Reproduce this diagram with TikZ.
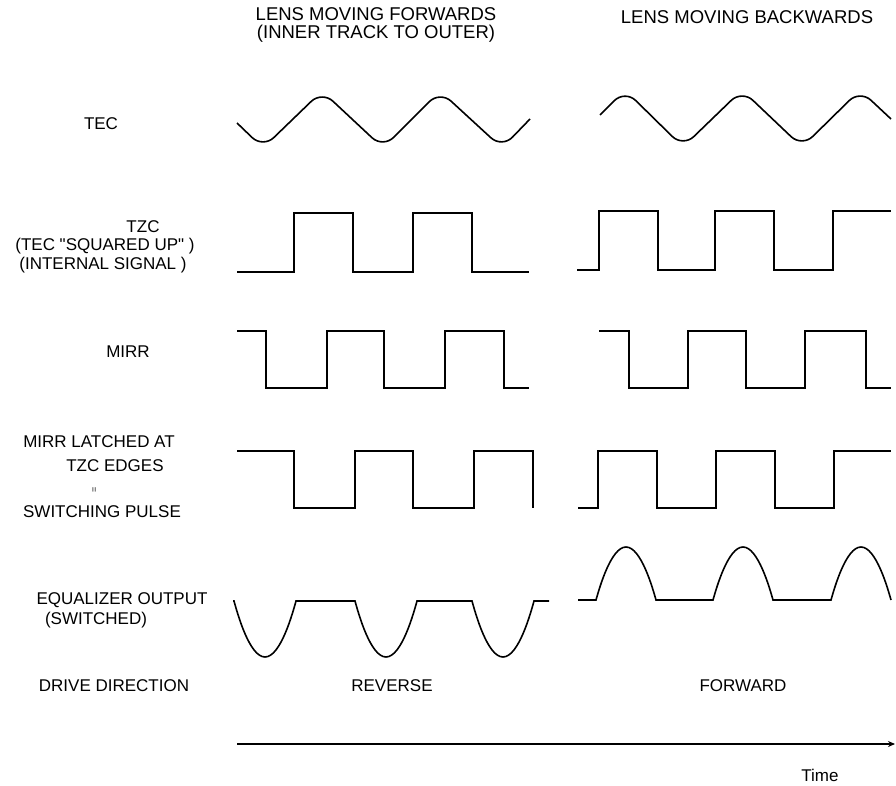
\documentclass[tikz,border=0pt]{standalone}
\usepackage{fontspec}
\setmainfont{Liberation Sans}
\usetikzlibrary{arrows.meta}
\tikzset{
  signal/.style={
    line width=1.6pt,
    line join=miter
  },
  sinewave/.style={
    line width=1.6pt,
    rounded corners=15pt
  },
  siglabel/.style={
    inner sep=0pt,
    align=center,
    font=\fontsize{17}{19}\selectfont
  },
  heading/.style={
    inner sep=0pt,
    align=center,
    font=\fontsize{18.5}{18}\selectfont
  },
  timeaxis/.style={
    line width=1.6pt,
    -{Stealth[length=7pt,width=6pt]}
  }
}
\begin{document}
\begin{tikzpicture}[x=1pt,y=-1pt]
  \useasboundingbox (0,0) rectangle (896,786);
  % column headings
  \node[heading] (fwd) at (376,25) {LENS MOVING FORWARDS\\(INNER TRACK TO OUTER)};
  \node[heading] (bwd) at (747,17) {LENS MOVING BACKWARDS};
  % row labels
  \node[siglabel] (tec) at (101,124) {TEC};
  \node[siglabel] (tzc) at (143,227) {TZC};
  \node[siglabel] (tzcsq) at (105,246) {(TEC \textquotedbl SQUARED UP\textquotedbl\ )};
  \node[siglabel] (tzcint) at (103,265) {(INTERNAL SIGNAL )};
  \node[siglabel] (mirr) at (128,352) {MIRR};
  \node[siglabel] (lat) at (99,442) {MIRR LATCHED AT};
  \node[siglabel] (latedge) at (115,466) {TZC EDGES};
  \node[siglabel, rotate=90, font=\fontsize{9}{9}\selectfont] (lateq) at (95,490) {=};
  \node[siglabel] (latsw) at (102,512) {SWITCHING PULSE};
  \node[siglabel] (eq) at (122,600) {EQUALIZER OUTPUT};
  \node[siglabel] (eqsw) at (96,620) {(SWITCHED)};
  \node[siglabel] (drive) at (114,686) {DRIVE DIRECTION};
  \node[siglabel] (rev) at (392,686) {REVERSE};
  \node[siglabel] (fwdd) at (743,686) {FORWARD};
  \node[siglabel] (time) at (820,775) {Time};

  % TEC
  \draw[sinewave] (237,123) -- (263,148) -- (322,91) -- (383,148) -- (440,91) -- (502,148) -- (530,119);
  \draw[sinewave] (600,115) -- (625,90) -- (683,147) -- (742,90) -- (802,147) -- (860,90) -- (891,119);

  % TZC
  \draw[signal] (237,272) foreach \x in {294,413} { -- (\x,272) -- (\x,213) -- (\x+59,213) -- (\x+59,272) } -- (529,272);
  \draw[signal] (577,270) foreach \x in {599,715} { -- (\x,270) -- (\x,211) -- (\x+59,211) -- (\x+59,270) } -- (833,270) -- (833,211) -- (891,211);

  % MIRR
  \draw[signal] (237,331) foreach \x in {266,384} { -- (\x,331) -- (\x,388) -- (\x+61,388) -- (\x+61,331) } -- (504,331) -- (504,388) -- (529,388);
  \draw[signal] (599,331) foreach \x in {629,746} { -- (\x,331) -- (\x,388) -- (\x+59,388) -- (\x+59,331) } -- (866,331) -- (866,388) -- (891,388);

  % MIRR latched at TZC edges
  \draw[signal] (237,451) foreach \x in {294,413} { -- (\x,451) -- (\x,508) -- (\x+61,508) -- (\x+61,451) } -- (533,451) -- (533,508);
  \draw[signal] (578,508) foreach \x in {598,716} { -- (\x,508) -- (\x,451) -- (\x+59,451) -- (\x+59,508) } -- (834,508) -- (834,451) -- (891,451);

  % equalizer output
  \draw[signal] (233,601) foreach \c in {265,386,503} { -- (\c-31,601) parabola bend (\c,657) (\c+31,601) } -- (549,601);
  \draw[signal] (578,600) foreach \c in {626,743,861} { -- (\c-30,600) parabola bend (\c,547) (\c+30,600) } ;

  % time axis
  \coordinate (t0) at (237,744);
  \coordinate (t1) at (895,744);
  \draw[timeaxis] (t0) -- (t1);
\end{tikzpicture}
\end{document}
